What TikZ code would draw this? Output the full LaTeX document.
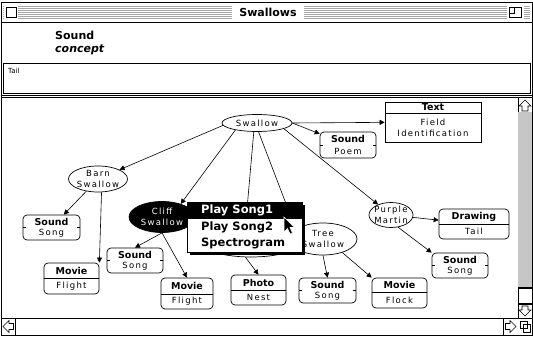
\documentclass[tikz,border=0pt]{standalone}
\usepackage{fontspec}
\setmainfont{DejaVu Sans}
\newfontfamily\gen[LetterSpace=15]{DejaVu Sans}
\usetikzlibrary{shapes.geometric,arrows.meta}
\tikzset{
 ell/.style={ellipse, draw, line width=0.7pt, fill=white, inner sep=0pt},
 bx/.style={rectangle, draw, line width=0.7pt, fill=white, inner sep=0pt, rounded corners=4pt},
 lab/.style={inner sep=0pt, font=\gen\fontsize{8.5}{11}\selectfont, align=center},
 hd/.style={inner sep=0pt, font=\bfseries\fontsize{9.5}{11}\selectfont},
 conn/.style={-{Triangle[length=5pt,width=5pt]}, line width=0.6pt},
 menuitem/.style={inner sep=0pt, anchor=west, font=\bfseries\fontsize{11.5}{12}\selectfont},
 chrome/.style={line width=0.8pt},
}
\begin{document}
\begin{tikzpicture}[x=1pt,y=-1pt]
\useasboundingbox (0,0) rectangle (533,337);
\fill[white] (0,0) rectangle (533,337);
% ---------- window chrome ----------
\draw[chrome] (1,2) rectangle (532,335);
\foreach \yy in {6,8,...,18} \draw[gray!70, line width=0.6pt] (3,\yy) -- (530,\yy);
\fill[white] (4,4) rectangle (18,20);
\draw[chrome] (6,7) rectangle (16,17);
\fill[white] (232,3.5) rectangle (304,20.5);
\node[inner sep=0pt, font=\bfseries\fontsize{11}{12}\selectfont] (title) at (268,12) {Swallows};
\fill[white] (507,4) rectangle (524,20);
\draw[chrome] (509,7) rectangle (521,17);
\draw[line width=0.6pt] (509,13) -- (514,13) -- (514,7);
\draw[chrome] (1,22) -- (532,22);
\node[inner sep=0pt, anchor=west, font=\bfseries\fontsize{11}{12}\selectfont] (ctitle) at (55,35) {Sound};
\node[inner sep=0pt, anchor=west, font=\bfseries\itshape\fontsize{11}{12}\selectfont] (ctype) at (55,50) {concept};
\draw[chrome] (3,63) rectangle (530,93);
\node[inner sep=0pt, anchor=west, font=\fontsize{7}{8}\selectfont] (tailtxt) at (8,71) {Tail};
\draw[chrome] (1,95.5) -- (532,95.5);
\draw[chrome] (1,97.5) -- (532,97.5);
% vertical scrollbar
\draw[chrome] (518,97.5) -- (518,318);
\draw[chrome] (518,112) -- (532,112);
\draw[line width=0.6pt] (525,100) -- (531,106) -- (528,106) -- (528,111) -- (522,111) -- (522,106) -- (519,106) -- cycle;
\fill[gray!45] (518.4,112.4) rectangle (531.6,287);
\draw[line width=1.4pt] (518,288) -- (532,288);
\draw[line width=1.4pt] (518,304) -- (532,304);
\draw[line width=0.6pt] (525,316) -- (531,310) -- (528,310) -- (528,306) -- (522,306) -- (522,310) -- (519,310) -- cycle;
% horizontal scrollbar
\draw[chrome] (1,318) -- (532,318);
\draw[chrome] (15,318) -- (15,335);
\draw[line width=0.6pt] (3,326.5) -- (9,320.5) -- (9,323.5) -- (13.5,323.5) -- (13.5,329.5) -- (9,329.5) -- (9,332.5) -- cycle;
\draw[chrome] (503,318) -- (503,335);
\draw[line width=0.6pt] (516,326.5) -- (510,320.5) -- (510,323.5) -- (505.5,323.5) -- (505.5,329.5) -- (510,329.5) -- (510,332.5) -- cycle;
\draw[line width=0.6pt] (520,321) rectangle (527,328);
\draw[line width=0.6pt] (523,324) rectangle (530,332);
% ---------- concept ellipses ----------
\node[ell, minimum width=70pt, minimum height=17pt] (sw) at (257,123) {};
\node[lab] (swT) at (sw) {Swallow};
\node[ell, minimum width=59pt, minimum height=26pt] (barn) at (98,179) {};
\node[lab] (barnT) at (barn) {Barn\\Swallow};
\node[ell, fill=black, minimum width=66pt, minimum height=31pt] (cliff) at (162,217) {};
\node[lab, text=white] (cliffT) at (cliff) {Cliff\\Swallow};
\node[ell, minimum width=100pt, minimum height=30pt] (hidden) at (251,242) {};
\node[ell, minimum width=68pt, minimum height=32pt] (tree) at (323,239) {};
\node[lab] (treeT) at (tree) {Tree\\Swallow};
\node[ell, minimum width=44pt, minimum height=25pt] (pm) at (391,215) {};
\node[lab] (pmT) at (pm) {Purple\\Martin};
% ---------- media boxes ----------
\node[bx, sharp corners, minimum width=96pt, minimum height=40pt] (text) at (433,122) {};
\draw[line width=0.7pt] (385,113) -- (481,113);
\node[hd] (textH) at (433,107.5) {Text};
\node[lab] (textB) at (433,128) {Field\\Identification};

\node[bx, minimum width=56pt, minimum height=26pt] (poem) at (348,145) {};
\node[hd] (poemH) at (348,139) {Sound};
\node[lab] (poemB) at (348,151) {Poem};

\node[bx, minimum width=70pt, minimum height=30pt] (drw) at (474,224) {};
\draw[line width=0.7pt] (439,224) -- (509,224);
\node[hd] (drwH) at (474,216.5) {Drawing};
\node[lab] (drwB) at (474,231.5) {Tail};

\node[bx, minimum width=56pt, minimum height=25pt] (soundR) at (460,265.5) {};
\node[hd] (soundRH) at (460,259.5) {Sound};
\node[lab] (soundRB) at (460,271.5) {Song};

\node[bx, minimum width=57pt, minimum height=25pt] (soundT) at (327.5,290.5) {};
\node[hd] (soundTH) at (327.5,284.5) {Sound};
\node[lab] (soundTB) at (327.5,296.5) {Song};

\node[bx, minimum width=55pt, minimum height=30pt] (flock) at (399.5,293) {};
\draw[line width=0.7pt] (372,292) -- (427,292);
\node[hd] (flockH) at (399.5,285) {Movie};
\node[lab] (flockB) at (399.5,300) {Flock};

\node[bx, minimum width=55pt, minimum height=30pt] (photo) at (258.5,290) {};
\draw[line width=0.7pt] (231,290) -- (286,290);
\node[hd] (photoH) at (258.5,282.5) {Photo};
\node[lab] (photoB) at (258.5,297.5) {Nest};

\node[bx, minimum width=52pt, minimum height=31pt] (flightM) at (187,293.5) {};
\draw[line width=0.7pt] (161,294) -- (213,294);
\node[hd] (flightMH) at (187,286) {Movie};
\node[lab] (flightMB) at (187,301.5) {Flight};

\node[bx, minimum width=56pt, minimum height=25pt] (soundM) at (135,260.5) {};
\node[hd] (soundMH) at (135,254.5) {Sound};
\node[lab] (soundMB) at (135,266.5) {Song};

\node[bx, minimum width=55pt, minimum height=31pt] (flightL) at (71.5,278.5) {};
\draw[line width=0.7pt] (44,278) -- (99,278);
\node[hd] (flightLH) at (71.5,270.5) {Movie};
\node[lab] (flightLB) at (71.5,286) {Flight};

\node[bx, minimum width=57pt, minimum height=25pt] (soundL) at (51.5,227.5) {};
\node[hd] (soundLH) at (51.5,221.5) {Sound};
\node[lab] (soundLB) at (51.5,233.5) {Song};

% side notches of the sound boxes
\foreach \n in {poem,soundR,soundT,soundM,soundL}{
  \draw[line width=0.7pt] (\n.west) -- ++(3,0);
  \draw[line width=0.7pt] (\n.east) -- ++(-3,0);
}
% ---------- connectors ----------
\draw[conn] (sw.184) -- (barn);
\draw[conn] (sw.198) -- (cliff.35);
\draw[conn] (sw.250) -- (hidden.110);
\draw[conn] (sw.-80) -- (tree.160);
\draw[conn] (sw.east) -- (poem);
\draw[conn] (sw.east) -- (text);
\draw[conn] (sw.-12) -- (pm);
\draw[conn] (barn) -- (soundL);
\draw[conn] (barn.-75) -- (flightL.north east);
\draw[conn] (cliff.south) -- (soundM.north);
\draw[conn] (cliff.south) -- (flightM.north);
\draw[conn] (hidden.250) -- (photo.north);
\draw[conn] (tree.south) -- (soundT.north);
\draw[conn] (tree.-35) -- (flock.north west);
\draw[conn] (pm) -- (drw);
\draw[conn] (pm.-60) -- (soundR.north west);
% ---------- popup menu ----------
\fill[black] (190,205) rectangle (305,255);
\node[draw, line width=0.8pt, fill=white, minimum width=115pt, minimum height=50pt, inner sep=0pt] (menu) at (244.5,227) {};
\fill[black] (187,202) rectangle (302,218.5);
\node[menuitem, text=white] (m1) at (201,210.5) {Play Song1};
\node[menuitem] (m2) at (201,227) {Play Song2};
\node[menuitem] (m3) at (201,243.5) {Spectrogram};
% cursor
\draw[fill=black, draw=white, line width=0.6pt, shift={(284,217)}] (0,0) -- (0,15) -- (3.5,11.5) -- (6,17) -- (8.5,16) -- (6,10.5) -- (10.5,10.5) -- cycle;
\end{tikzpicture}
\end{document}
